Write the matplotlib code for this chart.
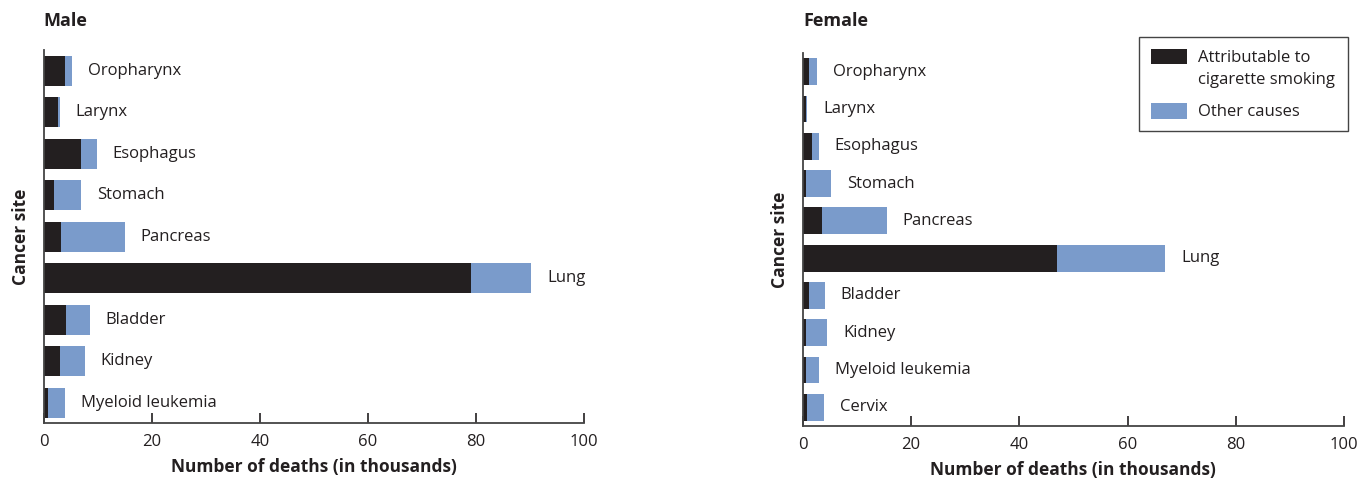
import matplotlib
matplotlib.use("Agg")
import matplotlib.pyplot as plt
from matplotlib.patches import Rectangle

plt.rcParams['font.family'] = ['Open Sans', 'DejaVu Sans']

male_sites = ["Oropharynx", "Larynx", "Esophagus", "Stomach", "Pancreas",
              "Lung", "Bladder", "Kidney", "Myeloid leukemia"]
male_smoking = [3.9, 2.6, 7.0, 2.0, 3.3, 79.0, 4.1, 3.0, 0.9]
male_total = [5.2, 3.0, 9.8, 7.0, 15.0, 90.2, 8.5, 7.6, 3.9]

female_sites = ["Oropharynx", "Larynx", "Esophagus", "Stomach", "Pancreas",
                "Lung", "Bladder", "Kidney", "Myeloid leukemia", "Cervix"]
female_smoking = [1.1, 0.6, 1.7, 0.6, 3.5, 47.0, 1.1, 0.6, 0.6, 0.8]
female_total = [2.6, 0.9, 3.0, 5.2, 15.5, 66.9, 4.1, 4.6, 3.1, 3.9]

xticks = [0, 20, 40, 60, 80, 100]
legend_labels = ["Attributable to\ncigarette smoking", "Other causes"]

BLACK = "#231f20"
BLUE = "#7a9bcb"
TEXT = "#231f20"

W, H = 1361, 478
fig = plt.figure(figsize=(W / 100, H / 100), dpi=100)
ax_m = fig.add_axes([0.032, 0.1144, 0.3973, 0.7806])
ax_f = fig.add_axes([0.5897, 0.1088, 0.3980, 0.7802])


def draw(ax, sites, smoking, total):
    ypos = list(range(len(sites)))
    other = [t - s for t, s in zip(total, smoking)]
    ax.barh(ypos, smoking, height=0.72, color=BLACK, linewidth=0)
    ax.barh(ypos, other, left=smoking, height=0.72, color=BLUE, linewidth=0)
    for y, t, name in zip(ypos, total, sites):
        ax.annotate(name, xy=(t, y), xytext=(11.5, 0), textcoords="offset points",
                    ha="left", va="center", fontsize=12, color=TEXT)
    ax.set_xlim(0, 100)
    ax.set_ylim(len(sites) - 0.5, -0.5)
    ax.set_xticks(xticks)
    ax.set_xticklabels([str(v) for v in xticks], fontsize=12, color=TEXT)
    ax.set_yticks([])
    ax.tick_params(axis="x", direction="in", length=7, width=1.2, color=TEXT, pad=8)
    for s in ["top", "right"]:
        ax.spines[s].set_visible(False)
    for s in ["left", "bottom"]:
        ax.spines[s].set_color("#444444")
        ax.spines[s].set_linewidth(1.3)
    ax.set_xlabel("Number of deaths (in thousands)", fontsize=12.5,
                  fontweight="bold", color=TEXT, labelpad=5.5)
    ax.set_ylabel("Cancer site", fontsize=12.5, fontweight="bold", color=TEXT, labelpad=10)


draw(ax_m, male_sites, male_smoking, male_total)
draw(ax_f, female_sites, female_smoking, female_total)

fig.text(43 / W, 1 - 21 / H, "Male", fontsize=13, fontweight="bold", color=TEXT,
         ha="left", va="center")
fig.text(803 / W, 1 - 21 / H, "Female", fontsize=13, fontweight="bold", color=TEXT,
         ha="left", va="center")


def fx(px):
    return px / W


def fy(py):
    return 1 - py / H


# legend drawn manually in figure pixel coordinates
fig.patches.append(Rectangle((fx(1139), fy(131)), fx(1348) - fx(1139), fy(37) - fy(131),
                             transform=fig.transFigure, facecolor="white",
                             edgecolor="#444444", linewidth=1.0))
fig.patches.append(Rectangle((fx(1151), fy(64)), fx(1187) - fx(1151), fy(49) - fy(64),
                             transform=fig.transFigure, facecolor=BLACK, edgecolor="none"))
fig.patches.append(Rectangle((fx(1151), fy(119)), fx(1187) - fx(1151), fy(103) - fy(119),
                             transform=fig.transFigure, facecolor=BLUE, edgecolor="none"))
fig.text(fx(1198), fy(69), legend_labels[0], fontsize=12, color=TEXT, ha="left",
         va="center", linespacing=1.45)
fig.text(fx(1198), fy(112), legend_labels[1], fontsize=12, color=TEXT, ha="left",
         va="center")

fig.savefig("out.png", dpi=100)
